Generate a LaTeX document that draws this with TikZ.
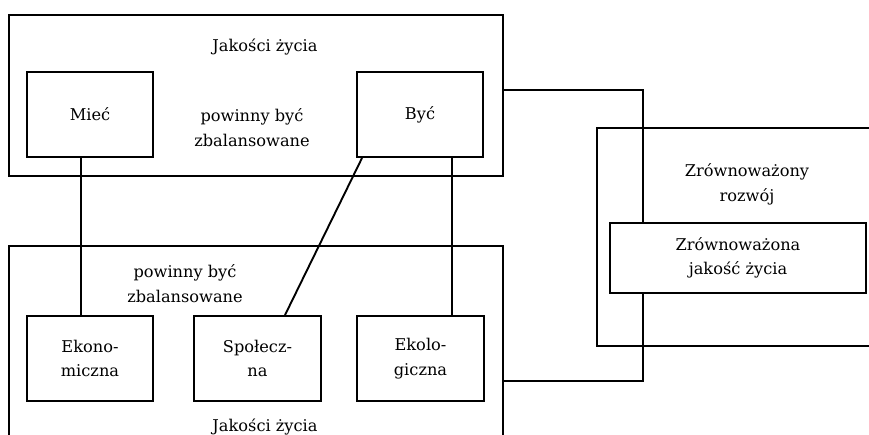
\documentclass[tikz,border=0pt]{standalone}
\usepackage{fontspec}
\setmainfont{DejaVu Serif}
\usetikzlibrary{calc}
\begin{document}
\begin{tikzpicture}[x=1pt,y=-1pt,
  line/.style={line width=1.9pt},
  frame/.style={draw,line width=1.9pt,rectangle,inner sep=0pt},
  boxnode/.style={draw,line width=1.9pt,rectangle,inner sep=0pt,align=center,
     font=\fontsize{16.2}{24.5}\selectfont},
  lbl/.style={align=center,inner sep=0pt,font=\fontsize{16.2}{24.5}\selectfont}]
\useasboundingbox (0,0) rectangle (869,435);
\clip (0,0) rectangle (869,435);
\fill[white] (0,0) rectangle (869,435);
% frames
\node[frame,minimum width=494pt,minimum height=161pt] (top) at (256,95.5) {};
\node[frame,minimum width=494pt,minimum height=199pt] (bot) at (256,345.5) {};
\node[frame,minimum width=283pt,minimum height=218pt] (right) at (738.5,237) {};
% inner boxes
\node[boxnode,minimum width=126pt,minimum height=85pt] (miec) at (90,114.5) {Mieć};
\node[boxnode,minimum width=126pt,minimum height=85pt] (byc) at (420,114.5) {Być};
\node[boxnode,minimum width=126pt,minimum height=85pt] (ekon) at (90,358.5) {Ekono-\\miczna};
\node[boxnode,minimum width=127pt,minimum height=85pt] (spol) at (257.5,358.5) {Społecz-\\na};
\node[boxnode,minimum width=127pt,minimum height=85pt] (ekol) at (420.5,358.5) {Ekolo-\\giczna};
\node[boxnode,minimum width=256pt,minimum height=70pt] (zjz) at (738,258) {Zrównoważona\\jakość życia};
% labels
\node[lbl] (t1) at (265,47) {Jakości życia};
\node[lbl] (t2) at (252,127.5) {powinny być\\zbalansowane};
\node[lbl] (b1) at (185,283.5) {powinny być\\zbalansowane};
\node[lbl] (b2) at (265,427) {Jakości życia};
\node[lbl] (r1) at (747,184.5) {Zrównoważony\\rozwój};
% connectors
\draw[line] ([xshift=-9pt]miec.south) -- ([xshift=-9pt]ekon.north);
\draw[line] ([xshift=6pt]byc.south west) -- ([xshift=27.5pt]spol.north);
\draw[line] ([xshift=32pt]byc.south) -- ([xshift=31.5pt]ekol.north);
\coordinate (c1) at (643,90);
\coordinate (c2) at (643,381);
\draw[line] (top.east |- c1) -- (c1) -- (c1 |- zjz.north);
\draw[line] (c2 |- zjz.south) -- (c2) -- (bot.east |- c2);
\end{tikzpicture}
\end{document}
